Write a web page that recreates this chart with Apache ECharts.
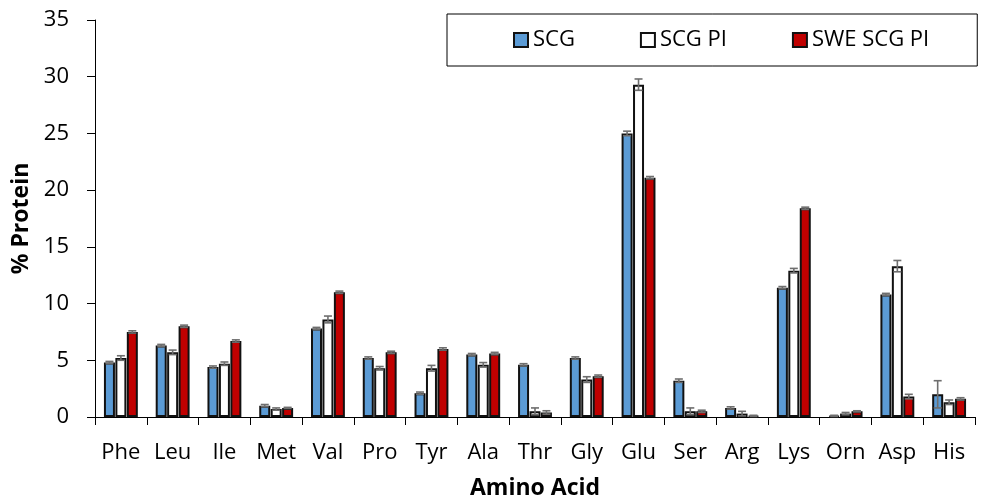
<!DOCTYPE html>
<html>
<head>
<meta charset="utf-8">
<script src="https://cdn.jsdelivr.net/npm/echarts@6/dist/echarts.min.js"></script>
<style>
  html, body { margin: 0; padding: 0; background: #fff; }
  #chart { width: 990px; height: 497px; }
</style>
</head>
<body>
<div id="chart"></div>
<script>
// Amino acid composition (% protein) with standard deviations
const aminoAcids = ['Phe', 'Leu', 'Ile', 'Met', 'Val', 'Pro', 'Tyr', 'Ala', 'Thr', 'Gly', 'Glu', 'Ser', 'Arg', 'Lys', 'Orn', 'Asp', 'His'];

const scg      = [4.8, 6.3, 4.4, 1.0, 7.8, 5.2, 2.1, 5.5, 4.6, 5.2, 25.0, 3.2, 0.8, 11.4, 0.1, 10.8, 2.0];
const scgPI    = [5.2, 5.7, 4.7, 0.7, 8.6, 4.3, 4.3, 4.6, 0.5, 3.3, 29.3, 0.5, 0.3, 12.9, 0.3, 13.3, 1.3];
const sweScgPI = [7.5, 8.0, 6.7, 0.8, 11.0, 5.7, 6.0, 5.6, 0.4, 3.6, 21.1, 0.5, 0.1, 18.4, 0.5, 1.8, 1.6];

const scgErr      = [0.1, 0.1, 0.1, 0.1, 0.1, 0.1, 0.1, 0.1, 0.1, 0.1, 0.2, 0.15, 0.1, 0.1, 0.05, 0.1, 1.2];
const scgPIErr    = [0.2, 0.2, 0.15, 0.1, 0.3, 0.15, 0.25, 0.2, 0.3, 0.25, 0.5, 0.3, 0.2, 0.2, 0.1, 0.5, 0.2];
const sweScgPIErr = [0.1, 0.1, 0.1, 0.05, 0.1, 0.1, 0.1, 0.1, 0.15, 0.1, 0.1, 0.1, 0.05, 0.1, 0.05, 0.2, 0.1];

const seriesNames = ['SCG', 'SCG PI', 'SWE SCG PI'];
const seriesColors = ['#5B9BD5', '#FFFFFF', '#C00000'];

const FONT = 'Open Sans';
const BAR_W = 11;
const BAR_GAP = 0.04;

const chart = echarts.init(document.getElementById('chart'), null, { renderer: 'canvas' });

const valueSets = [scg, scgPI, sweScgPI];
const errSets = [scgErr, scgPIErr, sweScgPIErr];

// Error bars (mean ± SD) drawn on top of each bar of a series
function errorSeries(idx) {
  const data = aminoAcids.map((c, i) => [i, valueSets[idx][i], errSets[idx][i]]);
  return {
    type: 'custom',
    name: seriesNames[idx] + ' SD',
    data: data,
    encode: { x: 0, y: 1 },
    z: 10,
    silent: true,
    renderItem: function (params, api) {
      const x = api.value(0);
      const v = api.value(1);
      const e = api.value(2);
      const step = BAR_W * (1 + BAR_GAP);
      const off = (idx - 1) * step;
      const hi = api.coord([x, v + e]);
      const lo = api.coord([x, Math.max(v - e, 0)]);
      const cx = hi[0] + off;
      const half = 4;
      const style = { stroke: '#6e6e6e', lineWidth: 1.6 };
      return {
        type: 'group',
        children: [
          { type: 'line', shape: { x1: cx, y1: hi[1], x2: cx, y2: lo[1] }, style: style },
          { type: 'line', shape: { x1: cx - half, y1: hi[1], x2: cx + half, y2: hi[1] }, style: style },
          { type: 'line', shape: { x1: cx - half, y1: lo[1], x2: cx + half, y2: lo[1] }, style: style }
        ]
      };
    }
  };
}

const barSeries = valueSets.map((vals, idx) => ({
  type: 'bar',
  name: seriesNames[idx],
  data: vals,
  barWidth: BAR_W,
  barGap: (BAR_GAP * 100) + '%',
  itemStyle: {
    color: seriesColors[idx],
    borderColor: '#111',
    borderWidth: 2
  }
}));

chart.setOption({
  animation: false,
  backgroundColor: '#fff',
  textStyle: { fontFamily: FONT, color: '#000' },
  legend: {
    data: seriesNames,
    left: 447,
    top: 14,
    padding: [15, 48, 15, 66],
    itemGap: 65,
    itemWidth: 14,
    itemHeight: 14,
    borderColor: '#000',
    borderWidth: 1,
    icon: 'rect',
    textStyle: { fontFamily: FONT, fontSize: 22, color: '#000', padding: [0, 0, 0, 0] }
  },
  grid: { left: 95, right: 15, top: 20, bottom: 80, outerBoundsMode: 'none', containLabel: false },
  xAxis: {
    type: 'category',
    data: aminoAcids,
    name: 'Amino Acid',
    nameLocation: 'middle',
    nameGap: 60,
    nameTextStyle: { fontFamily: FONT, fontSize: 23, fontWeight: 'bold', color: '#000' },
    axisLine: { lineStyle: { color: '#000', width: 1 } },
    axisTick: { show: true, length: 8, lineStyle: { color: '#000' } },
    axisLabel: { fontFamily: FONT, fontSize: 22, color: '#000', margin: 25, interval: 0 }
  },
  yAxis: {
    type: 'value',
    min: 0,
    max: 35,
    interval: 5,
    name: '% Protein',
    nameLocation: 'middle',
    nameGap: 61,
    nameTextStyle: { fontFamily: FONT, fontSize: 23, fontWeight: 'bold', color: '#000' },
    axisLine: { show: true, lineStyle: { color: '#000', width: 1 } },
    axisTick: { show: true, length: 8, lineStyle: { color: '#000' } },
    axisLabel: { fontFamily: FONT, fontSize: 22, color: '#000', margin: 26 },
    splitLine: { show: false }
  },
  series: barSeries.concat([errorSeries(0), errorSeries(1), errorSeries(2)])
});
</script>
</body>
</html>
